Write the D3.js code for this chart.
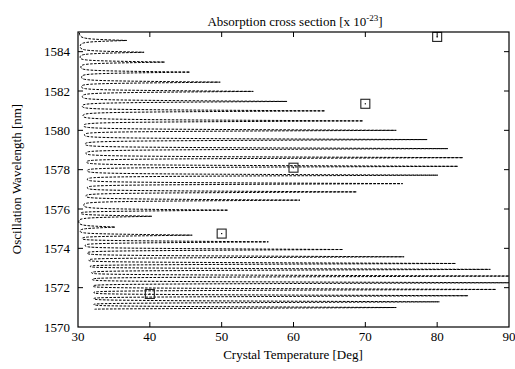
<!DOCTYPE html>
<html>
<head>
<meta charset="utf-8">
<script src="https://cdn.jsdelivr.net/npm/d3@7"></script>
<style>
  html, body { margin: 0; padding: 0; background: #fff; }
  svg { display: block; }
  text { font-family: "Liberation Serif", "DejaVu Serif", serif; fill: #000; }
</style>
</head>
<body>
<script>
// ---- data ----
const xTicks = [30, 40, 50, 60, 70, 80, 90];
const yTicks = [1570, 1572, 1574, 1576, 1578, 1580, 1582, 1584];

// absorption spectrum peaks: wavelength [nm] and extent on the temperature axis
const peakWl = [1584.57, 1583.97, 1583.47, 1582.96, 1582.45, 1581.98, 1581.47, 1580.99,
                1580.48, 1580.00, 1579.53, 1579.07, 1578.61, 1578.17, 1577.72, 1577.29,
                1576.87, 1576.45, 1575.94, 1575.63, 1575.08, 1574.67, 1574.33, 1573.94,
                1573.57, 1573.23, 1572.93, 1572.59, 1572.25, 1571.91, 1571.59, 1571.28, 1570.99];
const peakVal = [36.8, 39.2, 42.1, 45.6, 49.8, 54.4, 59.1, 64.4,
                 69.7, 74.3, 78.6, 81.5, 83.6, 82.9, 80.1, 75.2,
                 68.8, 60.9, 50.9, 40.3, 35.2, 45.9, 56.5, 66.9,
                 75.4, 82.6, 87.4, 92.0, 91.0, 88.2, 84.3, 80.3, 74.3];
// troughs between peaks (first = top start, last = bottom end)
const valleyWl = [1584.95, 1584.27, 1583.72, 1583.22, 1582.70, 1582.22, 1581.72, 1581.23,
                  1580.74, 1580.24, 1579.77, 1579.30, 1578.84, 1578.39, 1577.95, 1577.51,
                  1577.08, 1576.66, 1576.20, 1575.79, 1575.36, 1574.88, 1574.50, 1574.14,
                  1573.76, 1573.40, 1573.08, 1572.76, 1572.42, 1572.08, 1571.75, 1571.44,
                  1571.14, 1570.90];
const valleyVal = [30.2, 30.3, 30.3, 30.4, 30.5, 30.5, 30.6, 30.6,
                   30.7, 30.8, 30.9, 31.0, 31.1, 31.2, 31.3, 31.3,
                   31.3, 31.1, 30.8, 30.4, 30.1, 30.3, 30.6, 31.0,
                   31.3, 31.5, 31.7, 31.9, 32.0, 32.1, 32.2, 32.2,
                   32.2, 32.3];

// measured points (square markers)
const markTemp = [40, 50, 60, 70, 80];
const markWl = [1571.68, 1574.75, 1578.10, 1581.35, 1584.75];

// ---- chart ----
const W = 515, H = 369;
const svg = d3.select("body").append("svg").attr("width", W).attr("height", H);

const x = d3.scaleLinear().domain([30, 90]).range([78, 509]);
const y = d3.scaleLinear().domain([1570, 1585]).range([327, 32]);

svg.append("defs").append("clipPath").attr("id", "plotclip")
  .append("rect").attr("x", x(30)).attr("y", y(1585))
  .attr("width", x(90) - x(30)).attr("height", y(1570) - y(1585));

// spectrum path
let d = `M${x(valleyVal[0])},${y(valleyWl[0])}`;
for (let i = 0; i < peakWl.length; i++) {
  const xv0 = x(valleyVal[i]);
  const xp = x(peakVal[i]), yp = y(peakWl[i]);
  const xv1 = x(valleyVal[i + 1]), yv1 = y(valleyWl[i + 1]);
  d += `C${xv0},${yp - 1.4} ${xv0 + 5},${yp - 1.4} ${xp},${yp}`;
  d += `C${xv1 + 5},${yp + 1.4} ${xv1},${yp + 1.4} ${xv1},${yv1}`;
}
svg.append("path")
  .attr("d", d)
  .attr("clip-path", "url(#plotclip)")
  .attr("fill", "none")
  .attr("stroke", "#000")
  .attr("stroke-width", 1)
  .attr("stroke-dasharray", "2.6,1.4");

// markers
const mk = svg.append("g");
markTemp.forEach((t, i) => {
  const cx = x(t), cy = y(markWl[i]);
  mk.append("rect").attr("x", cx - 4.5).attr("y", cy - 4.5).attr("width", 9).attr("height", 9)
    .attr("fill", "none").attr("stroke", "#222").attr("stroke-width", 1.1);
  mk.append("rect").attr("x", cx - 0.6).attr("y", cy - 0.6).attr("width", 1.2).attr("height", 1.2)
    .attr("fill", "#000");
});

// frame
svg.append("rect").attr("x", x(30)).attr("y", y(1585))
  .attr("width", x(90) - x(30)).attr("height", y(1570) - y(1585))
  .attr("fill", "none").attr("stroke", "#000").attr("stroke-width", 1.2);

// ticks (inward on all sides)
const tk = 5;
const inner = xTicks.slice(1, -1);
const tg = svg.append("g").attr("stroke", "#000").attr("stroke-width", 1);
inner.forEach(v => {
  tg.append("line").attr("x1", x(v)).attr("x2", x(v)).attr("y1", y(1570)).attr("y2", y(1570) - tk);
  tg.append("line").attr("x1", x(v)).attr("x2", x(v)).attr("y1", y(1585)).attr("y2", y(1585) + tk);
});
yTicks.slice(1).forEach(v => {
  tg.append("line").attr("x1", x(30)).attr("x2", x(30) + tk).attr("y1", y(v)).attr("y2", y(v));
  tg.append("line").attr("x1", x(90)).attr("x2", x(90) - tk).attr("y1", y(v)).attr("y2", y(v));
});

// tick labels
const fs = 13;
xTicks.forEach(v => {
  svg.append("text").attr("x", x(v)).attr("y", 340.5).attr("text-anchor", "middle")
    .attr("font-size", fs).text(v);
});
yTicks.forEach(v => {
  svg.append("text").attr("x", 70).attr("y", y(v) + 4.5).attr("text-anchor", "end")
    .attr("font-size", fs).text(v);
});

// axis titles
svg.append("text").attr("x", 293).attr("y", 359).attr("text-anchor", "middle")
  .attr("font-size", fs).text("Crystal Temperature [Deg]");
svg.append("text").attr("transform", "translate(21,179) rotate(-90)")
  .attr("text-anchor", "middle").attr("font-size", fs).text("Oscillation Wavelength [nm]");

const title = svg.append("text").attr("x", 295).attr("y", 26).attr("text-anchor", "middle")
  .attr("font-size", fs);
title.append("tspan").text("Absorption cross section [x 10");
title.append("tspan").attr("dy", -5).attr("font-size", 9).text("-23");
title.append("tspan").attr("dy", 5).text("]");
</script>
</body>
</html>
